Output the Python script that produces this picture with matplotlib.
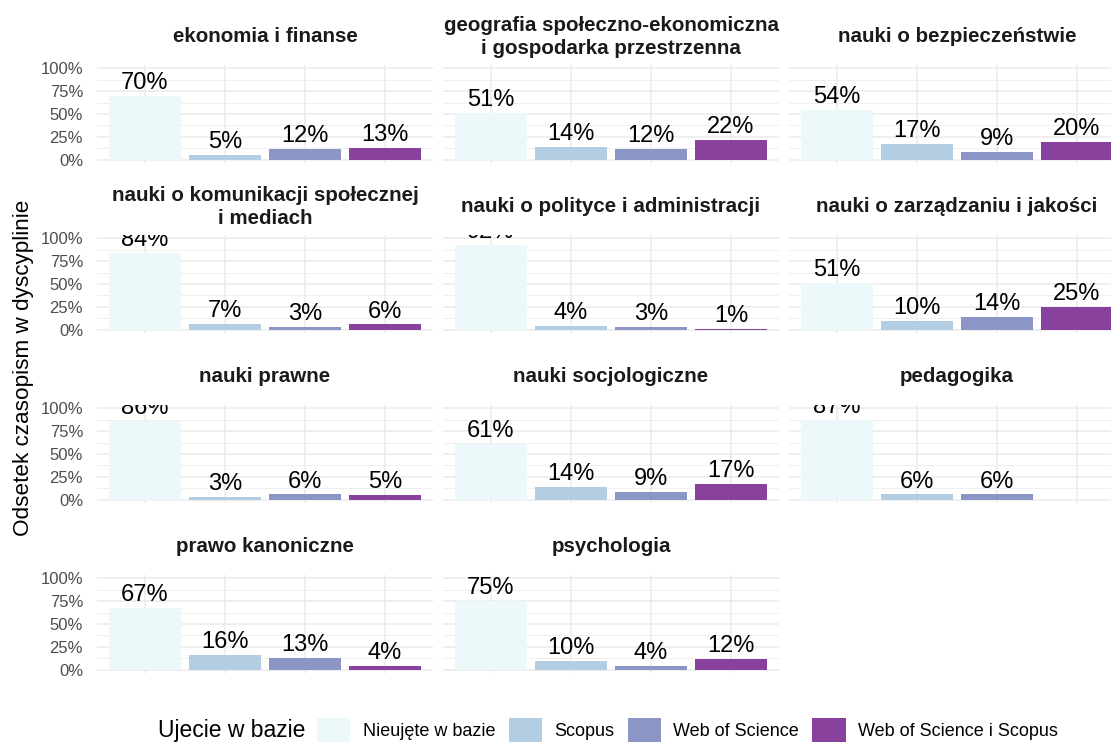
import numpy as np
import matplotlib
matplotlib.use("Agg")
import matplotlib.pyplot as plt
from matplotlib.patches import Patch
from matplotlib import transforms

plt.rcParams['font.family'] = ['Liberation Sans', 'DejaVu Sans']

# data
disciplines = ["ekonomia i finanse",
               "geografia społeczno-ekonomiczna\ni gospodarka przestrzenna",
               "nauki o bezpieczeństwie",
               "nauki o komunikacji społecznej\ni mediach",
               "nauki o polityce i administracji",
               "nauki o zarządzaniu i jakości",
               "nauki prawne",
               "nauki socjologiczne",
               "pedagogika",
               "prawo kanoniczne",
               "psychologia"]
categories = ["Nieujęte w bazie", "Scopus", "Web of Science", "Web of Science i Scopus"]
nieujete = [70, 51, 54, 84, 92, 51, 86, 61, 87, 67, 75]
scopus = [5, 14, 17, 7, 4, 10, 3, 14, 6, 16, 10]
wos = [12, 12, 9, 3, 3, 14, 6, 9, 6, 13, 4]
wos_scopus = [13, 22, 20, 6, 1, 25, 5, 17, np.nan, 4, 12]
colors = ["#edf8fb", "#b3cde3", "#8c96c6", "#88419d"]

W, H = 1111, 742
fig = plt.figure(figsize=(W / 100, H / 100), dpi=100)

col_left = [97, 443, 789]
row_top = [65, 235, 405, 575]
pw, ph = 336, 98
x = np.arange(1, 5)

for i, name in enumerate(disciplines):
    r, c = divmod(i, 3)
    ax = fig.add_axes([col_left[c] / W, 1 - (row_top[r] + ph) / H, pw / W, ph / H])
    vals = np.array([nieujete[i], scopus[i], wos[i], wos_scopus[i]], dtype=float) / 100
    ok = ~np.isnan(vals)
    ax.bar(x[ok], vals[ok], width=0.9, color=np.array(colors)[ok], zorder=2)
    lab_tr = transforms.offset_copy(ax.transData, fig=fig, y=5, units='points')
    for xi, v in zip(x[ok], vals[ok]):
        ax.text(xi, v, f"{v*100:.0f}%", transform=lab_tr, ha='center', va='baseline',
                fontsize=17, color='black', clip_on=True, zorder=3)
    ax.set_xlim(0.4, 4.6)
    ax.set_ylim(-0.033, 1.033)
    ax.set_yticks([0, 0.25, 0.5, 0.75, 1.0])
    ax.set_yticks([0.125, 0.375, 0.625, 0.875], minor=True)
    ax.set_xticks(x)
    ax.set_xticklabels([])
    if c == 0:
        ax.set_yticklabels(["0%", "25%", "50%", "75%", "100%"])
    else:
        ax.set_yticklabels([])
    ax.tick_params(axis='both', which='both', length=0, pad=10, labelsize=12, labelcolor='#4d4d4d')
    ax.grid(which='major', color='#ebebeb', lw=1.1, zorder=0)
    ax.grid(which='minor', axis='y', color='#ebebeb', lw=0.55, zorder=0)
    ax.set_axisbelow(True)
    for s in ax.spines.values():
        s.set_visible(False)
    ax.text(0.5, 1 + 28 / ph, name, transform=ax.transAxes, ha='center', va='center',
            fontsize=14.8, fontweight='bold', color='#1a1a1a', linespacing=1.25)

fig.text(24 / W, 1 - 368 / H, "Odsetek czasopism w dyscyplinie", rotation=90,
         ha='center', va='center', fontsize=16.2, color='black')

handles = [Patch(facecolor=col, edgecolor='none') for col in colors]
fig.text(158 / W, 1 - 731 / H, "Ujecie w bazie", ha='left', va='center', fontsize=16.5, color='black')
fig.legend(handles, categories, ncol=4, loc='center left', bbox_to_anchor=(317 / W, 1 - 730 / H),
           frameon=False, fontsize=13, handlelength=1.85, handleheight=1.7,
           handletextpad=0.68, columnspacing=0.74, borderpad=0, borderaxespad=0)

fig.savefig("out.png", dpi=100)
